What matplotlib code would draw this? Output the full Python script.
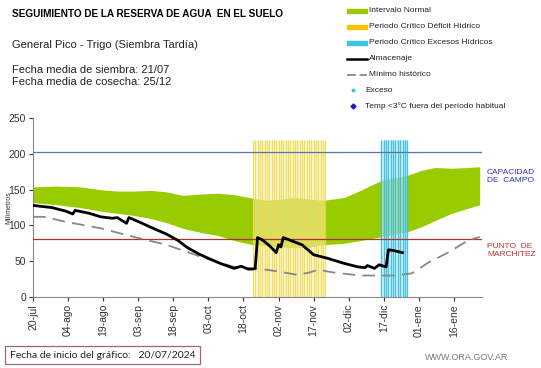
import matplotlib
matplotlib.use("Agg")
import matplotlib.pyplot as plt
from matplotlib.lines import Line2D
from matplotlib.patches import Rectangle

plt.rcParams['font.family'] = ['Liberation Sans', 'DejaVu Sans']

# days counted from 20-jul-2024
tick_days = [0, 15, 30, 45, 60, 75, 90, 105, 120, 135, 150, 165, 180]
tick_labels = ['20-jul', '04-ago', '19-ago', '03-sep', '18-sep', '03-oct', '18-oct',
               '02-nov', '17-nov', '02-dic', '17-dic', '01-ene', '16-ene']

# intervalo normal (upper / lower edge)
band_days = [0, 10, 20, 29, 36, 43, 50, 57, 64, 72, 79, 86, 94, 100, 106, 112, 118,
             124, 133, 140, 149, 160, 166, 172, 179, 186, 191]
band_hi = [154, 155, 154, 150, 148, 148, 149, 147, 142, 144, 145, 143, 138, 135, 137,
           139, 137, 135, 139, 149, 163, 170, 177, 181, 180, 181, 182]
band_lo = [132, 129, 125, 120, 117, 114, 110, 104, 96, 90, 86, 79, 73, 72, 70, 69, 70,
           73, 75, 79, 84, 91, 98, 107, 117, 124, 129]

# almacenaje
alm_days = [0, 8, 14, 17, 18, 24, 29, 34, 36, 40, 41, 46, 50, 57, 62, 66, 71, 75, 80,
            86, 89, 92, 94, 95, 96, 98, 101, 104, 105, 106, 107, 111, 115, 120, 126,
            130, 133, 139, 142, 143, 146, 148, 151, 152, 154, 158]
alm = [128, 125, 120, 116, 121, 117, 112, 110, 111, 103, 111, 104, 98, 88, 79, 69, 60,
       54, 47, 40, 43, 39, 39, 40, 83, 80, 72, 62, 73, 70, 83, 78, 73, 59, 54, 50, 47,
       42, 41, 44, 40, 45, 42, 66, 65, 62]

# minimo historico
min_days = [0, 5, 14, 29, 43, 57, 72, 86, 100, 106, 113, 118, 122, 129, 140, 155, 162,
            169, 178, 186, 191]
min_vals = [112, 112, 105, 96, 84, 73, 56, 42, 38, 35, 31, 34, 38, 34, 30, 30, 33, 48,
            63, 79, 84]

# periodos criticos (one stripe per day)
deficit_days = list(range(94, 126))
exceso_days = list(range(149, 161))
band_top = 220

cap_campo = 202
marchitez = 81

green = '#99cc00'

fig = plt.figure(figsize=(5.41, 3.68), dpi=100)
ax = fig.add_axes([0.061, 0.193, 0.830, 0.486])

ax.fill_between(band_days, band_lo, band_hi, color=green, lw=0, zorder=1)

# pale background of the critical periods + daily stripes
ax.bar(deficit_days[0], band_top, width=deficit_days[-1] - deficit_days[0],
       align='edge', color='#fbf3b8', alpha=0.55, lw=0, zorder=2)
ax.vlines(deficit_days, 0, band_top, color='#f0d850', lw=0.9, alpha=0.85, zorder=2)
ax.bar(exceso_days[0], band_top, width=exceso_days[-1] - exceso_days[0],
       align='edge', color='#c4ecf6', alpha=0.6, lw=0, zorder=2)
ax.vlines(exceso_days, 0, band_top, color='#35bde0', lw=1.0, alpha=0.9, zorder=2)

ax.axhline(cap_campo, color='#5577aa', lw=0.9, zorder=3)
ax.axhline(marchitez, color='#b03030', lw=0.9, zorder=3)
ax.plot(min_days, min_vals, color='#888888', lw=1.3, dashes=(7, 4), zorder=4)
ax.plot(alm_days, alm, color='black', lw=2, zorder=5)

ax.set_xlim(0, 192)
ax.set_ylim(0, 250)
ax.set_yticks([0, 50, 100, 150, 200, 250])
ax.set_xticks(tick_days)
ax.set_xticklabels(tick_labels, rotation=90)
ax.tick_params(labelsize=7.5, colors='#333333', length=3, width=0.8)
ax.tick_params(axis='x', pad=2)
ax.tick_params(axis='y', pad=2)
for s in ['top', 'right']:
    ax.spines[s].set_visible(False)
for s in ['left', 'bottom']:
    ax.spines[s].set_color('#888888')
ax.set_ylabel('Milímetros', fontsize=5, color='#333333')
ax.yaxis.set_label_coords(-0.046, 0.5)

# header texts
fig.text(12 / 541, 1 - 14 / 368, 'SEGUIMIENTO DE LA RESERVA DE AGUA  EN EL SUELO',
         fontsize=7.2, fontweight='bold', va='center')
fig.text(12 / 541, 1 - 45 / 368, 'General Pico - Trigo (Siembra Tardía)',
         fontsize=8, va='center', color='#222222')
fig.text(12 / 541, 1 - 70 / 368, 'Fecha media de siembra: 21/07',
         fontsize=8, va='center', color='#222222')
fig.text(12 / 541, 1 - 82 / 368, 'Fecha media de cosecha: 25/12',
         fontsize=8, va='center', color='#222222')

# legend drawn by hand
leg_rows = [11, 27, 43, 59, 75, 90, 106]
leg_texts = ['Intervalo Normal', 'Periodo Crítico Déficit Hídrico',
             'Periodo Crítico Excesos Hídricos', 'Almacenaje', 'Mínimo histórico',
             'Exceso', 'Temp <3°C fuera del período habitual']
x0, x1 = 347 / 541, 367 / 541
for i, (r, t) in enumerate(zip(leg_rows, leg_texts)):
    yy = 1 - r / 368
    if i < 3:
        c = [green, '#f5c400', '#3fc3e3'][i]
        fig.add_artist(Rectangle((x0, yy - 2 / 368), x1 - x0, 4 / 368,
                                 color=c, transform=fig.transFigure))
    elif i == 3:
        fig.add_artist(Line2D([x0, x1], [yy, yy], color='black', lw=1.8,
                              transform=fig.transFigure))
    elif i == 4:
        fig.add_artist(Line2D([x0, x1], [yy, yy], color='#888888', lw=1.3,
                              dashes=(5, 2), transform=fig.transFigure))
    elif i == 5:
        fig.add_artist(Line2D([353 / 541], [yy], marker='o', markersize=1.8,
                              color='#3fc3e3', ls='', transform=fig.transFigure))
    else:
        fig.add_artist(Line2D([353 / 541], [yy], marker='D', markersize=2.5,
                              color='#1a1acc', ls='', transform=fig.transFigure))
    tx = 369 / 541 if i < 5 else 365 / 541
    fig.text(tx, yy, t, fontsize=6, va='center', color='#222222')

# right side labels
fig.text(487 / 541, 1 - 177 / 368, 'CAPACIDAD\nDE  CAMPO', fontsize=6,
         color='#3333bb', va='center', linespacing=1.2)
fig.text(487 / 541, 1 - 251 / 368, 'PUNTO  DE\nMARCHITEZ', fontsize=6,
         color='#c03030', va='center', linespacing=1.2)

# footer
fig.text(10 / 541, 1 - 355 / 368, 'Fecha de inicio del gráfico:   20/07/2024',
         fontsize=7.5, family=['Lato', 'DejaVu Sans'], va='center', color='#222222',
         bbox=dict(boxstyle='square,pad=0.45', fc='white', ec='#9a6a6a', lw=0.9))
fig.text(425 / 541, 1 - 358 / 368, 'WWW.ORA.GOV.AR', fontsize=6.5,
         color='#777777', va='center')

fig.savefig('out.png', dpi=100)
